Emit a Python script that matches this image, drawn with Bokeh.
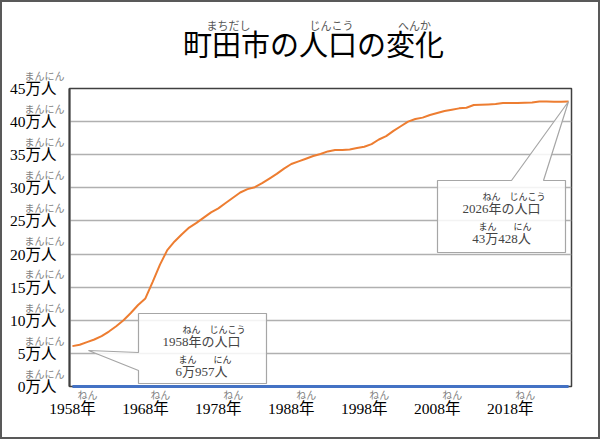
from bokeh.plotting import figure
from bokeh.models import Range1d, Label, FixedTicker, LinearAxis
from bokeh.embed import file_html
from bokeh.resources import INLINE

# --- data -------------------------------------------------------------
years = list(range(1958, 2027))
population = [  # people
    60957, 63000, 67000, 71000, 76000, 83000, 91000, 100000, 111000, 123000,   # 1958-1967
    133000, 158000, 184000, 206000, 219000, 230000, 240000, 247000, 255000, 263000,  # 1968-1977
    269000, 277000, 285000, 293000, 298000, 301000, 307000, 314000, 321000, 329000,  # 1978-1987
    336000, 340000, 344000, 348000, 351000, 355000, 357000, 357000, 358000, 360000,  # 1988-1997
    362000, 366000, 373000, 378000, 386000, 393000, 400000, 404000, 406000, 410000,  # 1998-2007
    413000, 416000, 418000, 420000, 421000, 425000, 425500, 426000, 426500, 428000,  # 2008-2017
    428000, 428000, 428500, 429000, 430500, 430500, 430000, 430000, 430428,          # 2018-2026
]
baseline = [0] * len(years)

title_text = "町田市の人口の変化"
title_ruby = ["まちだし", "じんこう", "へんか"]
y_ticks = list(range(0, 50, 5))          # 万人
x_ticks = list(range(1958, 2019, 10))
tick_ruby_y = "まんにん"
tick_ruby_x = "ねん"

man = [v / 10000 for v in population]

# --- geometry (canvas pixels) ----------------------------------------
W, H = 600, 439
FL, FR, FT, FB = 69, 571, 88, 386
X0, X1 = 1957.6, 2026.4
Y0, Y1 = 0, 45
PX_X = (X1 - X0) / (FR - FL)   # data units per pixel
PX_Y = (Y1 - Y0) / (FB - FT)


def dx(px):
    return X0 + (px - FL) * PX_X


def dy(py):
    return Y0 + (FB - py) * PX_Y


SERIF = "'Liberation Serif', 'Noto Sans CJK JP'"
JP = "'Noto Sans CJK JP'"
RUBY_COLOR = "#7f7f7f"

p = figure(width=W, height=H, output_backend="svg", toolbar_location=None,
           title_location=None,
           x_range=Range1d(X0, X1), y_range=Range1d(Y0, Y1),
           min_border_left=FL, min_border_right=W - FR,
           min_border_top=FT, min_border_bottom=H - FB)
p.extra_x_ranges = {"ruby_x": Range1d(X0 - 15 * PX_X, X1 - 15 * PX_X)}
p.styles = {"background": "white", "box-shadow": "inset 0 0 0 2px #595959"}
p.background_fill_color = "white"
p.border_fill_color = None
p.outline_line_color = "#404040"
p.outline_line_width = 1.5

# main axes
p.yaxis.ticker = FixedTicker(ticks=y_ticks)
p.yaxis.major_label_overrides = {t: f"{t}万人" for t in y_ticks}
p.xaxis.ticker = FixedTicker(ticks=x_ticks)
p.xaxis.major_label_overrides = {t: f"{t}年" for t in x_ticks}
for ax in (p.xaxis, p.yaxis):
    ax.axis_line_color = None
    ax.major_tick_line_color = None
    ax.minor_tick_line_color = None
    ax.major_tick_out = 0
    ax.major_tick_in = 0
    ax.minor_tick_out = 0
    ax.minor_tick_in = 0
    ax.major_label_text_font = SERIF
    ax.major_label_text_font_size = "15.5px"
    ax.major_label_text_color = "black"
p.yaxis.major_label_standoff = 13
p.xaxis.major_label_standoff = 13
p.yaxis.axis_line_color = "#404040"
p.yaxis.axis_line_width = 2

p.xgrid.visible = False
p.ygrid.ticker = FixedTicker(ticks=y_ticks)
p.ygrid.grid_line_color = "#b0b0b0"
p.ygrid.grid_line_width = 1.5


def text_axis(side, ticks, labels, size, color, standoff, range_name=None,
              line_height=None):
    """A bare axis that only carries text (ruby, title) next to the frame."""
    kw = {}
    if range_name:
        kw["x_range_name"] = range_name
    if line_height:
        kw["major_label_text_line_height"] = line_height
    ax = LinearAxis(ticker=FixedTicker(ticks=ticks),
                    major_label_overrides=dict(zip(ticks, labels)),
                    axis_line_color=None, major_tick_line_color=None,
                    minor_tick_line_color=None, major_tick_in=0, major_tick_out=0,
                    minor_tick_in=0, minor_tick_out=0,
                    major_label_standoff=standoff, major_label_text_font=JP,
                    major_label_text_font_size=size, major_label_text_color=color,
                    **kw)
    p.add_layout(ax, side)
    return ax


# ruby above the tick labels (stacked after the main axes, pulled back with
# negative standoffs so they sit right beside the labels they belong to)
text_axis("right", y_ticks, [tick_ruby_y + "\n\n"] * len(y_ticks), "10px",
          RUBY_COLOR, 24 - FR, line_height=0.88)
text_axis("below", x_ticks, [tick_ruby_x] * len(x_ticks), "10px",
          RUBY_COLOR, -33, range_name="ruby_x")

# title and its ruby
text_axis("above", [dx(313)], [title_text], "29px", "black", 25)
text_axis("above", [dx(c) for c in (228, 331, 414)], title_ruby, "11px",
          "#555555", -14)

# series
p.line(years, man, line_color="#ed7d31", line_width=2)
p.line(years, baseline, line_color="#4472c4", line_width=3, level="overlay")


def people(v):
    return f"{v // 10000}万{v % 10000}人"


def callout(xs_px, ys_px, year, value, cx, cy):
    p.patch([dx(v) for v in xs_px], [dy(v) for v in ys_px], fill_color="white",
            fill_alpha=0.85, line_color="#a6a6a6", line_width=1.2)
    p.add_layout(Label(x=dx(cx), y=dy(cy), text=f"{year}年の人口", text_align="center",
                       text_baseline="middle", text_font_size="13px", text_font=SERIF))
    p.add_layout(Label(x=dx(cx), y=dy(cy + 30), text=people(value), text_align="center",
                       text_baseline="middle", text_font_size="13px", text_font=SERIF))
    for txt, off, row in (("ねん", -10, 0), ("じんこう", 26, 0), ("まん", -14, 30), ("にん", 21, 30)):
        p.add_layout(Label(x=dx(cx + off), y=dy(cy - 12 + row), text=txt,
                           text_align="center", text_baseline="middle",
                           text_font_size="9px", text_font=JP, text_color="#333333"))


callout([138, 266, 266, 138, 138, 88, 138], [313, 313, 383, 383, 370, 350, 352],
        years[0], population[0], 201, 341)
callout([437, 511, 568, 543, 565, 565, 437], [180, 180, 101, 180, 180, 252, 252],
        years[-1], population[-1], 501, 208)

open("out.html", "w").write(file_html(p, INLINE))
